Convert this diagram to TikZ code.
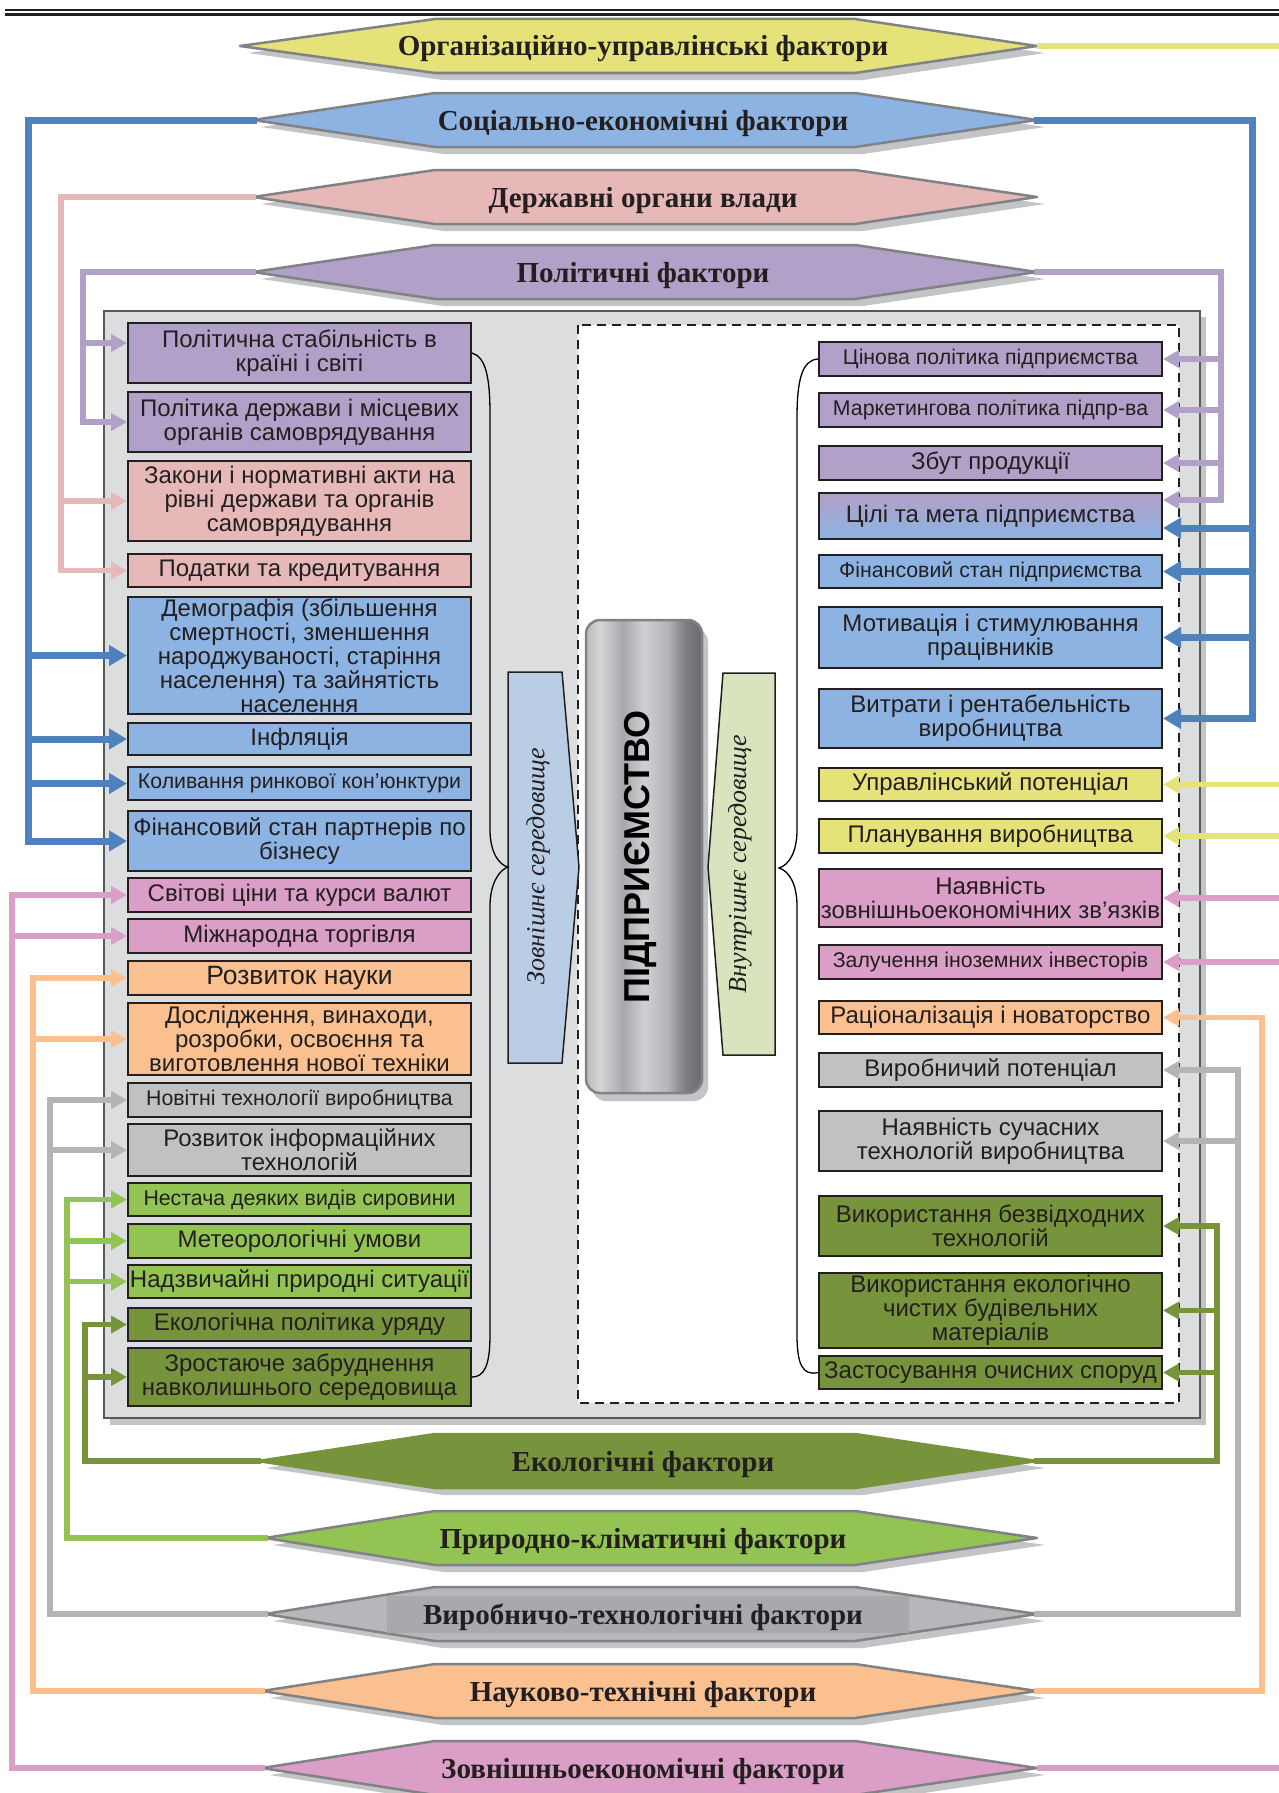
\documentclass[tikz,border=0pt]{standalone}
\usepackage{fontspec}
\setmainfont{Liberation Serif}
\setsansfont{Liberation Sans}
\usetikzlibrary{arrows.meta}
\definecolor{cPurple}{HTML}{B1A0C7}
\definecolor{cRose}{HTML}{E6B9B8}
\definecolor{cBlue}{HTML}{8DB3E2}
\definecolor{cBlueLine}{HTML}{4F81BD}
\definecolor{cPink}{HTML}{DA9EC7}
\definecolor{cOrange}{HTML}{FAC090}
\definecolor{cGrey}{HTML}{C0C1C3}
\definecolor{cGreyLine}{HTML}{B3B4B6}
\definecolor{cGreyHex}{HTML}{B6B7BA}
\definecolor{cGreyIn}{HTML}{A7A9AC}
\definecolor{cLGreen}{HTML}{92C353}
\definecolor{cDGreen}{HTML}{77933C}
\definecolor{cYellow}{HTML}{E6E27A}
\definecolor{cOuter}{HTML}{DCDDDF}
\definecolor{cOuterLine}{HTML}{58595B}
\definecolor{cShadow}{HTML}{C3C4C6}
\definecolor{cHexBorder}{HTML}{808285}
\definecolor{cInk}{HTML}{231F20}
\definecolor{cExt}{HTML}{B9CDE5}
\definecolor{cInt}{HTML}{D7E4BD}
\definecolor{eA}{HTML}{B9BBBE}
\definecolor{eB}{HTML}{D3D5D7}
\definecolor{eC}{HTML}{A6A8AB}
\definecolor{eD}{HTML}{CED0D2}
\definecolor{eE}{HTML}{B3B5B8}
\definecolor{eF}{HTML}{7B7D80}
\definecolor{eG}{HTML}{6A6C6F}
\pgfdeclarehorizontalshading{entshade}{100bp}{color(0bp)=(eA); color(25bp)=(eA); color(31bp)=(eB); color(41bp)=(eC); color(50bp)=(eD); color(60bp)=(eE); color(68bp)=(eF); color(75bp)=(eG); color(100bp)=(eG)}
\newcommand\apos{{\char"27}}
\newcommand\factorhex[7]{%
  \fill[cShadow] ({#5+8},{#2+7}) -- (443,{#2-20}) -- (863,{#2-20}) -- (1045,{#2+7}) -- (863,{#2+34}) -- (443,{#2+34}) -- cycle;
  \filldraw[fill=#3, draw=#4, line width=2.5pt, line join=round] (#5,#2) -- (435,{#2-27}) -- (855,{#2-27}) -- (1037,#2) -- (855,{#2+27}) -- (435,{#2+27}) -- cycle;
  #7
  \coordinate (#1L) at (#5,#2);
  \coordinate (#1R) at (1037,#2);
  \node[hextext, anchor=base] (#1) at (643,{#2+10}) {#6};
}
\begin{document}
\begin{tikzpicture}[x=1pt,y=-1pt,
  hextext/.style={font=\bfseries\fontsize{29}{29}\selectfont, text=cInk, inner sep=0pt},
  box/.style={draw=cInk, line width=2pt, inner sep=1pt, align=center, text=cInk,
    font=\sffamily\fontsize{24}{24}\selectfont, minimum width=343pt},
  sm/.style={font=\sffamily\fontsize{21.3}{23}\selectfont},
  trunk/.style={line width=5.5pt, line join=miter, line cap=rect},
  arr/.style={line width=5.5pt, -{Triangle[length=16pt,width=17pt]}},
  btrunk/.style={line width=7pt, line join=miter, line cap=rect},
  barr/.style={line width=7pt, -{Triangle[length=18pt,width=20pt]}},
  brace/.style={draw=black, line width=1.3pt}
]
\useasboundingbox (0,0) rectangle (1279,1793);
\fill[white] (0,0) rectangle (1279,1793);
% header rule
\draw[cInk, line width=2pt] (5,9.8) -- (1279,9.8);
\draw[cInk, line width=3.2pt] (5,14.3) -- (1279,14.3);

% outer frame
\fill[cShadow] (110,317) rectangle (1206,1425);
\filldraw[fill=cOuter, draw=cOuterLine, line width=2.5pt] (104,311) rectangle (1200,1418);
\filldraw[fill=white, draw=cInk, line width=2pt, dash pattern=on 9pt off 6pt] (578,325) rectangle (1179,1403);

% factor hexagons
\factorhex{org}{46}{cYellow}{cHexBorder}{240}{Організаційно-управлінські фактори}{}
\factorhex{soc}{120}{cBlue}{cHexBorder}{253}{Соціально-економічні фактори}{}
\factorhex{gos}{197}{cRose}{cHexBorder}{253}{Державні органи влади}{}
\factorhex{pol}{272}{cPurple}{cHexBorder}{253}{Політичні фактори}{}
\factorhex{eko}{1461}{cDGreen}{cDGreen}{258}{Екологічні фактори}{}
\factorhex{pri}{1538}{cLGreen}{cHexBorder}{265}{Природно-кліматичні фактори}{}
\factorhex{vir}{1614}{cGreyHex}{cHexBorder}{265}{Виробничо-технологічні фактори}{\fill[cGreyIn] (387,1596) rectangle (909,1633);}
\factorhex{nau}{1691}{cOrange}{cHexBorder}{262}{Науково-технічні фактори}{}
\factorhex{zov}{1768}{cPink}{cHexBorder}{262}{Зовнішньоекономічні фактори}{}

% centre
\fill[cShadow, rounded corners=14pt] (592,628) rectangle (708,1101);
\node[draw=cHexBorder, line width=2.5pt, rounded corners=14pt, shading=entshade,
  minimum width=116pt, minimum height=473pt, inner sep=0pt] (ent) at (644,856.5) {};
\node[rotate=90, font=\sffamily\bfseries\fontsize{36}{36}\selectfont, text=black] (entT) at (641,857) {ПІДПРИЄМСТВО};

\filldraw[fill=cExt, draw=cInk, line width=1.5pt] (508,672) -- (562,672) -- (579,867) -- (562,1063) -- (508,1063) -- cycle;
\coordinate (extW) at (508,867);
\node[rotate=90, font=\itshape\fontsize{26}{26}\selectfont, text=cInk] (extT) at (538,866) {Зовнішнє середовище};
\filldraw[fill=cInt, draw=cInk, line width=1.5pt] (775,673) -- (723,673) -- (708,867) -- (723,1055) -- (775,1055) -- cycle;
\coordinate (intE) at (779,868);
\node[rotate=90, font=\itshape\fontsize{26}{26}\selectfont, text=cInk] (intT) at (740,864) {Внутрішнє середовище};

% left boxes
\node[box, fill=cPurple, minimum height=60pt] (l1) at (299.5,353) {Політична стабільність в\\країні і світі};
\node[box, fill=cPurple, minimum height=60pt] (l2) at (299.5,422) {Політика держави і місцевих\\органів самоврядування};
\node[box, fill=cRose, minimum height=80pt] (l3) at (299.5,501) {Закони і нормативні акти на\\рівні держави та органів\\самоврядування};
\node[box, fill=cRose, minimum height=33pt] (l4) at (299.5,570.5) {Податки та кредитування};
\node[box, fill=cBlue, minimum height=117pt] (l5) at (299.5,655.5) {Демографія (збільшення\\смертності, зменшення\\народжуваності, старіння\\населення) та зайнятість\\населення};
\node[box, fill=cBlue, minimum height=32pt] (l6) at (299.5,739) {Інфляція};
\node[box, sm, fill=cBlue, minimum height=33pt] (l7) at (299.5,783.5) {Коливання ринкової кон\apos юнктури};
\node[box, fill=cBlue, minimum height=60pt] (l8) at (299.5,841) {Фінансовий стан партнерів по\\бізнесу};
\node[box, fill=cPink, minimum height=34pt] (l9) at (299.5,895) {Світові ціни та курси валют};
\node[box, fill=cPink, minimum height=34pt] (l10) at (299.5,936) {Міжнародна торгівля};
\node[box, fill=cOrange, minimum height=34pt, font=\sffamily\fontsize{26.5}{26.5}\selectfont] (l11) at (299.5,978) {Розвиток науки};
\node[box, fill=cOrange, minimum height=72pt] (l12) at (299.5,1039) {Дослідження, винаходи,\\розробки, освоєння та\\виготовлення нової техніки};
\node[box, sm, fill=cGrey, minimum height=34pt] (l13) at (299.5,1100) {Новітні технології виробництва};
\node[box, fill=cGrey, minimum height=52pt] (l14) at (299.5,1150) {Розвиток інформаційних\\технологій};
\node[box, sm, fill=cLGreen, minimum height=33pt] (l15) at (299.5,1199.5) {Нестача деяких видів сировини};
\node[box, fill=cLGreen, minimum height=34pt] (l16) at (299.5,1241) {Метеорологічні умови};
\node[box, fill=cLGreen, minimum height=33pt, inner sep=0pt] (l17) at (299.5,1281.5) {Надзвичайні природні ситуації};
\node[box, fill=cDGreen, minimum height=33pt] (l18) at (299.5,1324.5) {Екологічна політика уряду};
\node[box, fill=cDGreen, minimum height=58pt] (l19) at (299.5,1377) {Зростаюче забруднення\\навколишнього середовища};

% right boxes
\node[box, sm, fill=cPurple, minimum height=34pt] (r1) at (990.5,359) {Цінова політика підприємства};
\node[box, sm, fill=cPurple, minimum height=34pt] (r2) at (990.5,410) {Маркетингова політика підпр-ва};
\node[box, fill=cPurple, minimum height=34pt] (r3) at (990.5,463) {Збут продукції};
\node[box, top color=cPurple, bottom color=cBlue, minimum height=46pt] (r4) at (990.5,516) {Цілі та мета підприємства};
\node[box, sm, fill=cBlue, minimum height=33pt] (r5) at (990.5,571.5) {Фінансовий стан підприємства};
\node[box, fill=cBlue, minimum height=61pt] (r6) at (990.5,637.5) {Мотивація і стимулювання\\працівників};
\node[box, fill=cBlue, minimum height=59pt] (r7) at (990.5,718.5) {Витрати і рентабельність\\виробництва};
\node[box, fill=cYellow, minimum height=33pt] (r8) at (990.5,784.5) {Управлінський потенціал};
\node[box, fill=cYellow, minimum height=34pt] (r9) at (990.5,836) {Планування виробництва};
\node[box, fill=cPink, minimum height=58pt, inner sep=0pt] (r10) at (990.5,898) {Наявність\\зовнішньоекономічних зв\apos язків};
\node[box, sm, fill=cPink, minimum height=34pt] (r11) at (990.5,962) {Залучення іноземних інвесторів};
\node[box, fill=cOrange, minimum height=33pt] (r12) at (990.5,1017.5) {Раціоналізація і новаторство};
\node[box, fill=cGrey, minimum height=34pt] (r13) at (990.5,1070) {Виробничий потенціал};
\node[box, fill=cGrey, minimum height=60pt] (r14) at (990.5,1141) {Наявність сучасних\\технологій виробництва};
\node[box, fill=cDGreen, minimum height=60pt] (r15) at (990.5,1226) {Використання безвідходних\\технологій};
\node[box, fill=cDGreen, minimum height=75pt] (r16) at (990.5,1310.5) {Використання екологічно\\чистих будівельних\\матеріалів};
\node[box, fill=cDGreen, minimum height=33pt, inner sep=0pt] (r17) at (990.5,1372.5) {Застосування очисних споруд};

% braces
\draw[brace] (l1.east) .. controls (486,357) and (490,378) .. (490,415) -- (490,830)
  .. controls (490,852) and (499,865) .. (extW) .. controls (499,870) and (490,884) .. (490,906)
  -- (490,1335) .. controls (490,1366) and (484,1377) .. (l19.east);
\draw[brace] (r1.west) .. controls (802,360) and (797,380) .. (797,418) -- (797,830)
  .. controls (797,852) and (789,865) .. (intE) .. controls (789,871) and (797,884) .. (797,906)
  -- (797,1335) .. controls (797,1365) and (803,1376) .. (r17.west);

% trunk positions
\coordinate (tPurL) at (83,0);
\coordinate (tRoseL) at (61,0);
\coordinate (tBlueL) at (28,0);
\coordinate (tPinkL) at (12,0);
\coordinate (tOrL) at (33,0);
\coordinate (tGrL) at (50,0);
\coordinate (tLgL) at (67,0);
\coordinate (tDgL) at (85,0);
\coordinate (tPurR) at (1221,0);
\coordinate (tBlueR) at (1252,0);
\coordinate (tOrR) at (1262,0);
\coordinate (tGrR) at (1238,0);
\coordinate (tDgR) at (1217,0);
\coordinate (edge) at (1279,0);
\coordinate (l1p) at ([yshift=10pt]l1.west);
\coordinate (r4p) at ([yshift=16pt]r4.east);
\coordinate (r4b) at ([yshift=-12pt]r4.east);

% political
\draw[trunk, cPurple] (polL) -| (tPurL |- l2.west);
\draw[arr, cPurple] (tPurL |- l1p) -- (l1p);
\draw[arr, cPurple] (tPurL |- l2.west) -- (l2.west);
\draw[trunk, cPurple] (polR) -| (tPurR |- r4p);
\draw[arr, cPurple] (tPurR |- r1.east) -- (r1.east);
\draw[arr, cPurple] (tPurR |- r2.east) -- (r2.east);
\draw[arr, cPurple] (tPurR |- r3.east) -- (r3.east);
\draw[arr, cPurple] (tPurR |- r4p) -- (r4p);
% state bodies
\draw[trunk, cRose] (gosL) -| (tRoseL |- l4.west);
\draw[arr, cRose] (tRoseL |- l3.west) -- (l3.west);
\draw[arr, cRose] (tRoseL |- l4.west) -- (l4.west);
% socio-economic
\draw[btrunk, cBlueLine] (socL) -| (tBlueL |- l8.west);
\draw[barr, cBlueLine] (tBlueL |- l5.west) -- (l5.west);
\draw[barr, cBlueLine] (tBlueL |- l6.west) -- (l6.west);
\draw[barr, cBlueLine] (tBlueL |- l7.west) -- (l7.west);
\draw[barr, cBlueLine] (tBlueL |- l8.west) -- (l8.west);
\draw[btrunk, cBlueLine] (socR) -| (tBlueR |- r7.east);
\draw[barr, cBlueLine] (tBlueR |- r4b) -- (r4b);
\draw[barr, cBlueLine] (tBlueR |- r5.east) -- (r5.east);
\draw[barr, cBlueLine] (tBlueR |- r6.east) -- (r6.east);
\draw[barr, cBlueLine] (tBlueR |- r7.east) -- (r7.east);
% organisational
\draw[trunk, cYellow, line cap=butt] (orgR) -- (orgR -| edge);
\draw[arr, cYellow] (edge |- r8.east) -- (r8.east);
\draw[arr, cYellow] (edge |- r9.east) -- (r9.east);
% foreign economic
\draw[trunk, cPink] (zovL) -| (tPinkL |- l9.west);
\draw[arr, cPink] (tPinkL |- l9.west) -- (l9.west);
\draw[arr, cPink] (tPinkL |- l10.west) -- (l10.west);
\draw[trunk, cPink, line cap=butt] (zovR) -- (zovR -| edge);
\draw[arr, cPink] (edge |- r10.east) -- (r10.east);
\draw[arr, cPink] (edge |- r11.east) -- (r11.east);
% scientific-technical
\draw[trunk, cOrange] (nauL) -| (tOrL |- l11.west);
\draw[arr, cOrange] (tOrL |- l11.west) -- (l11.west);
\draw[arr, cOrange] (tOrL |- l12.west) -- (l12.west);
\draw[trunk, cOrange] (nauR) -| (tOrR |- r12.east);
\draw[arr, cOrange] (tOrR |- r12.east) -- (r12.east);
% production-technological
\draw[trunk, cGreyLine] (virL) -| (tGrL |- l13.west);
\draw[arr, cGreyLine] (tGrL |- l13.west) -- (l13.west);
\draw[arr, cGreyLine] (tGrL |- l14.west) -- (l14.west);
\draw[trunk, cGreyLine] (virR) -| (tGrR |- r13.east);
\draw[arr, cGreyLine] (tGrR |- r13.east) -- (r13.east);
\draw[arr, cGreyLine] (tGrR |- r14.east) -- (r14.east);
% natural-climatic
\draw[trunk, cLGreen] (priL) -| (tLgL |- l15.west);
\draw[arr, cLGreen] (tLgL |- l15.west) -- (l15.west);
\draw[arr, cLGreen] (tLgL |- l16.west) -- (l16.west);
\draw[arr, cLGreen] (tLgL |- l17.west) -- (l17.west);
% ecological
\draw[trunk, cDGreen] (ekoL) -| (tDgL |- l18.west);
\draw[arr, cDGreen] (tDgL |- l18.west) -- (l18.west);
\draw[arr, cDGreen] (tDgL |- l19.west) -- (l19.west);
\draw[trunk, cDGreen] (ekoR) -| (tDgR |- r15.east);
\draw[arr, cDGreen] (tDgR |- r15.east) -- (r15.east);
\draw[arr, cDGreen] (tDgR |- r16.east) -- (r16.east);
\draw[arr, cDGreen] (tDgR |- r17.east) -- (r17.east);
\end{tikzpicture}
\end{document}
